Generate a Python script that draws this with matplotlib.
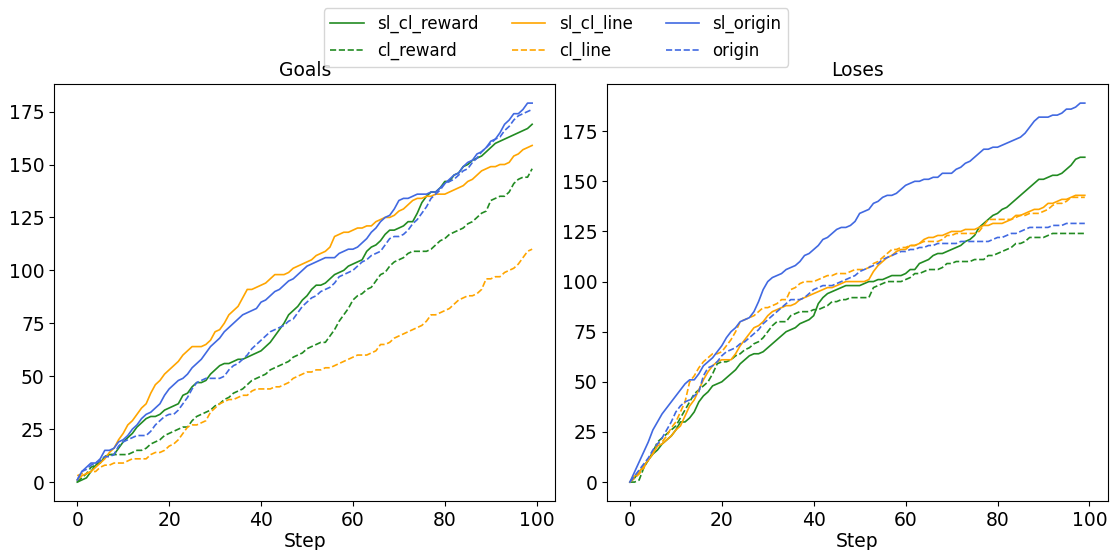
import matplotlib
matplotlib.use("Agg")
import matplotlib.pyplot as plt
import numpy as np

steps = np.arange(100)

# Goals panel
goals_sl_cl_reward = [0, 1, 2, 5, 8, 9, 12, 13, 13, 16,
                      19, 21, 23, 26, 28, 30, 31, 31, 32, 34,
                      35, 36, 37, 41, 42, 45, 47, 47, 48, 51,
                      53, 55, 56, 56, 57, 58, 58, 59, 60, 61,
                      62, 64, 66, 69, 72, 75, 79, 81, 83, 86,
                      88, 91, 93, 93, 94, 96, 98, 99, 100, 102,
                      103, 104, 105, 109, 111, 112, 114, 117, 119, 119,
                      120, 121, 123, 123, 127, 132, 135, 137, 137, 139,
                      142, 142, 145, 146, 149, 150, 152, 153, 154, 156,
                      158, 160, 161, 162, 163, 164, 165, 166, 167, 169]
goals_cl_reward = [0, 2, 4, 7, 8, 10, 12, 13, 13, 13,
                   13, 13, 14, 15, 15, 16, 18, 19, 20, 22,
                   23, 24, 25, 26, 26, 29, 31, 32, 33, 34,
                   36, 37, 39, 40, 42, 43, 44, 46, 48, 49,
                   50, 51, 53, 54, 55, 56, 57, 59, 60, 61,
                   63, 64, 65, 66, 66, 69, 72, 76, 79, 82,
                   86, 88, 89, 91, 92, 95, 98, 99, 102, 104,
                   105, 106, 108, 109, 109, 109, 109, 110, 112, 114,
                   115, 117, 118, 119, 120, 122, 123, 125, 127, 128,
                   133, 134, 135, 135, 137, 141, 143, 144, 144, 148]
goals_sl_cl_line = [1, 3, 4, 5, 7, 9, 11, 14, 16, 20,
                    23, 27, 29, 32, 35, 37, 42, 46, 48, 51,
                    53, 55, 57, 60, 62, 64, 64, 64, 65, 67,
                    71, 72, 75, 79, 81, 83, 87, 91, 91, 92,
                    93, 94, 96, 98, 98, 98, 99, 101, 102, 103,
                    104, 105, 107, 108, 109, 111, 116, 117, 118, 118,
                    119, 120, 120, 121, 121, 123, 124, 125, 125, 126,
                    128, 129, 131, 133, 134, 134, 135, 135, 136, 136,
                    136, 137, 138, 139, 140, 142, 143, 145, 147, 148,
                    149, 149, 150, 150, 151, 154, 155, 157, 158, 159]
goals_cl_line = [3, 4, 4, 5, 5, 7, 8, 8, 9, 9,
                 9, 10, 11, 11, 11, 11, 13, 14, 14, 15,
                 17, 18, 20, 23, 26, 27, 27, 28, 29, 33,
                 35, 37, 38, 39, 39, 40, 41, 41, 43, 44,
                 44, 44, 44, 45, 45, 46, 47, 49, 50, 51,
                 52, 52, 53, 53, 54, 54, 55, 56, 57, 58,
                 59, 60, 60, 60, 61, 62, 65, 65, 66, 68,
                 69, 70, 71, 72, 73, 74, 76, 79, 79, 80,
                 81, 82, 84, 86, 87, 88, 88, 89, 91, 96,
                 96, 97, 97, 99, 100, 101, 103, 106, 109, 110]
goals_sl_origin = [1, 5, 7, 9, 9, 11, 15, 15, 16, 19,
                   20, 22, 25, 27, 30, 32, 33, 35, 37, 41,
                   44, 46, 48, 49, 51, 54, 56, 58, 61, 64,
                   66, 68, 71, 73, 75, 77, 79, 80, 81, 82,
                   85, 86, 88, 90, 91, 93, 95, 96, 98, 100,
                   102, 103, 104, 105, 106, 106, 106, 108, 109, 110,
                   110, 111, 113, 115, 118, 120, 123, 125, 126, 129,
                   133, 134, 134, 135, 136, 136, 136, 137, 137, 139,
                   141, 143, 145, 146, 149, 151, 152, 155, 156, 158,
                   161, 162, 165, 169, 171, 174, 174, 176, 179, 179]
goals_origin = [1, 5, 6, 8, 9, 10, 12, 12, 13, 17,
                19, 20, 21, 22, 22, 22, 24, 27, 29, 31,
                32, 32, 34, 37, 40, 44, 47, 48, 49, 49,
                49, 49, 50, 53, 55, 56, 58, 60, 63, 65,
                67, 69, 71, 72, 73, 74, 76, 77, 80, 83,
                85, 87, 88, 90, 91, 92, 94, 97, 98, 99,
                100, 102, 104, 105, 107, 108, 109, 112, 115, 116,
                116, 117, 119, 122, 124, 127, 130, 134, 136, 138,
                141, 142, 143, 145, 147, 148, 151, 153, 156, 158,
                160, 162, 163, 166, 168, 171, 173, 174, 175, 176]

# Loses panel
loses_sl_cl_reward = [0, 2, 5, 8, 11, 14, 16, 19, 21, 23,
                      26, 30, 30, 32, 35, 40, 43, 45, 48, 49,
                      50, 52, 54, 56, 59, 61, 63, 64, 64, 65,
                      67, 69, 71, 73, 75, 76, 77, 79, 80, 81,
                      83, 89, 92, 94, 95, 96, 97, 98, 98, 98,
                      98, 99, 100, 100, 101, 101, 102, 103, 103, 103,
                      104, 106, 106, 109, 110, 111, 113, 114, 114, 115,
                      116, 117, 118, 120, 121, 123, 127, 129, 131, 133,
                      134, 136, 137, 139, 141, 143, 145, 147, 149, 151,
                      151, 152, 153, 153, 154, 156, 158, 161, 162, 162]
loses_cl_reward = [0, 0, 1, 7, 11, 15, 20, 22, 24, 26,
                   28, 32, 36, 40, 44, 46, 48, 50, 54, 59,
                   60, 60, 61, 63, 64, 66, 67, 69, 70, 72,
                   75, 78, 80, 80, 80, 83, 84, 85, 85, 85,
                   86, 86, 87, 88, 90, 90, 91, 91, 92, 92,
                   92, 92, 92, 97, 98, 99, 100, 100, 100, 100,
                   101, 102, 104, 104, 105, 106, 106, 106, 107, 109,
                   109, 110, 110, 110, 110, 111, 111, 111, 113, 113,
                   114, 115, 116, 117, 119, 119, 120, 122, 122, 122,
                   122, 123, 124, 124, 124, 124, 124, 124, 124, 124]
loses_sl_cl_line = [0, 3, 5, 8, 11, 14, 18, 19, 21, 23,
                    26, 28, 33, 38, 41, 46, 51, 55, 58, 60,
                    61, 61, 61, 64, 68, 71, 74, 77, 78, 80,
                    83, 85, 86, 87, 88, 88, 89, 91, 92, 93,
                    94, 95, 96, 97, 97, 98, 99, 100, 100, 100,
                    100, 100, 101, 105, 108, 110, 112, 113, 115, 116,
                    116, 118, 118, 119, 121, 122, 122, 123, 123, 124,
                    125, 125, 125, 126, 126, 126, 127, 128, 128, 129,
                    129, 129, 130, 131, 133, 133, 134, 135, 136, 136,
                    137, 139, 139, 140, 141, 141, 142, 143, 143, 143]
loses_cl_line = [0, 2, 4, 7, 11, 15, 19, 20, 23, 27,
                 30, 35, 40, 50, 53, 57, 60, 62, 64, 64,
                 65, 68, 71, 75, 80, 81, 82, 83, 85, 87,
                 87, 88, 89, 91, 91, 96, 97, 99, 100, 100,
                 100, 101, 102, 103, 103, 104, 104, 104, 105, 106,
                 106, 106, 107, 109, 110, 112, 114, 116, 116, 117,
                 117, 118, 118, 119, 120, 120, 120, 120, 121, 123,
                 123, 124, 124, 124, 124, 124, 125, 128, 131, 131,
                 131, 131, 131, 131, 132, 133, 133, 134, 134, 134,
                 135, 136, 138, 139, 139, 140, 142, 142, 142, 142]
loses_sl_origin = [0, 5, 10, 15, 20, 26, 30, 34, 37, 40,
                   43, 46, 49, 51, 51, 54, 58, 60, 62, 65,
                   68, 72, 75, 77, 80, 81, 82, 85, 90, 96,
                   100, 102, 103, 104, 106, 107, 108, 110, 113, 114,
                   116, 118, 121, 122, 124, 126, 127, 127, 128, 130,
                   134, 135, 136, 139, 140, 142, 143, 143, 144, 146,
                   148, 149, 150, 150, 151, 151, 152, 152, 154, 154,
                   154, 156, 157, 159, 160, 162, 164, 166, 166, 167,
                   167, 168, 169, 170, 171, 172, 174, 177, 180, 182,
                   182, 182, 183, 183, 184, 186, 186, 187, 189, 189]
loses_origin = [0, 3, 6, 9, 12, 16, 19, 22, 26, 30,
                35, 38, 40, 41, 43, 45, 53, 57, 58, 60,
                63, 65, 66, 67, 69, 70, 72, 74, 76, 79,
                81, 83, 85, 87, 89, 91, 91, 91, 92, 94,
                96, 97, 98, 98, 98, 99, 100, 101, 102, 103,
                105, 106, 107, 108, 109, 111, 112, 113, 114, 115,
                115, 116, 116, 117, 117, 118, 118, 119, 119, 119,
                119, 119, 120, 120, 120, 120, 120, 120, 120, 121,
                122, 122, 123, 124, 124, 125, 126, 127, 127, 127,
                127, 127, 128, 128, 128, 129, 129, 129, 129, 129]

green = 'forestgreen'
orange = 'orange'
blue = 'royalblue'

fig = plt.figure(figsize=(11.12, 5.5), dpi=100)
ax1 = fig.add_axes([0.049, 0.089, 0.45, 0.758])
ax2 = fig.add_axes([0.546, 0.089, 0.45, 0.758])

# goals
ax1.plot(steps, goals_sl_cl_reward, color=green, lw=1.2, label='sl_cl_reward')
ax1.plot(steps, goals_cl_reward, color=green, lw=1.2, ls='--', label='cl_reward')
ax1.plot(steps, goals_sl_cl_line, color=orange, lw=1.2, label='sl_cl_line')
ax1.plot(steps, goals_cl_line, color=orange, lw=1.2, ls='--', label='cl_line')
ax1.plot(steps, goals_sl_origin, color=blue, lw=1.2, label='sl_origin')
ax1.plot(steps, goals_origin, color=blue, lw=1.2, ls='--', label='origin')
ax1.set_title('Goals', fontsize=13.5)
ax1.set_xlabel('Step', fontsize=13.5, labelpad=1.5)

# loses
ax2.plot(steps, loses_sl_cl_reward, color=green, lw=1.2)
ax2.plot(steps, loses_cl_reward, color=green, lw=1.2, ls='--')
ax2.plot(steps, loses_sl_cl_line, color=orange, lw=1.2)
ax2.plot(steps, loses_cl_line, color=orange, lw=1.2, ls='--')
ax2.plot(steps, loses_sl_origin, color=blue, lw=1.2)
ax2.plot(steps, loses_origin, color=blue, lw=1.2, ls='--')
ax2.set_title('Loses', fontsize=13.5)
ax2.set_xlabel('Step', fontsize=13.5, labelpad=1.5)

for ax in (ax1, ax2):
    ax.set_yticks(np.arange(0, 176, 25))
    ax.set_xticks(np.arange(0, 101, 20))
    ax.tick_params(labelsize=13.5)

handles, labels = ax1.get_legend_handles_labels()
fig.legend(handles, labels, loc='upper center', ncol=3, fontsize=12,
           bbox_to_anchor=(0.5, 1.0))

fig.savefig('out.png', dpi=100)
